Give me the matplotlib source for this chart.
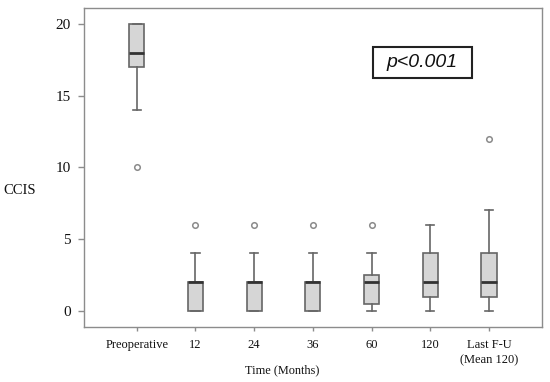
import matplotlib
matplotlib.use("Agg")
import matplotlib.pyplot as plt
from matplotlib.patches import Rectangle

categories = ["Preoperative", "12", "24", "36", "60", "120", "Last F-U\n(Mean 120)"]
q1 = [17, 0, 0, 0, 0.5, 1, 1]
med = [18, 2, 2, 2, 2, 2, 2]
q3 = [20, 2, 2, 2, 2.5, 4, 4]
whislo = [14, 0, 0, 0, 0, 0, 0]
whishi = [20, 4, 4, 4, 4, 6, 7]
outliers = [[10], [6], [6], [6], [6], [], [12]]
yticks = [0, 5, 10, 15, 20]

stats = []
for i in range(len(categories)):
    stats.append(dict(label=categories[i], q1=q1[i], med=med[i], q3=q3[i],
                      whislo=whislo[i], whishi=whishi[i], fliers=outliers[i]))

fig = plt.figure(figsize=(5.5, 3.82), dpi=100)
ax = fig.add_axes([0.1527, 0.1448, 0.985 - 0.1527, 0.979 - 0.1448])

edge = "#666666"
ax.bxp(stats, positions=range(1, len(categories) + 1), widths=0.26,
       patch_artist=True, showfliers=True, capwidths=0.14,
       boxprops=dict(facecolor="#d6d6d6", edgecolor=edge, linewidth=1.2),
       medianprops=dict(color="#333333", linewidth=2.0),
       whiskerprops=dict(color=edge, linewidth=1.2),
       capprops=dict(color=edge, linewidth=1.2),
       flierprops=dict(marker="o", markersize=4, markerfacecolor="none",
                       markeredgecolor="#8a8a8a", markeredgewidth=1.1))

ax.set_xlim(0.1, 7.9)
ax.set_ylim(-1.1, 21.1)
ax.set_yticks(yticks)
ax.set_xticks(range(1, len(categories) + 1))
ax.set_xticklabels(categories, linespacing=1.35)

for sp in ax.spines.values():
    sp.set_color("#8c8c8c")
    sp.set_linewidth(1.0)
ax.tick_params(axis="both", colors="#8c8c8c", width=1.0, labelcolor="#111111")
ax.tick_params(axis="x", length=3, pad=6, labelsize=9)
ax.tick_params(axis="y", length=4, pad=5.5, labelsize=11)
for lbl in ax.get_xticklabels() + ax.get_yticklabels():
    lbl.set_family("Liberation Serif")

fig.text(0.007, 1 - 190 / 382, "CCIS", family="Liberation Serif", fontsize=10.5,
         ha="left", va="center", color="#111111")
fig.text(282 / 550, 1 - 370 / 382, "Time (Months)", family="Liberation Serif",
         fontsize=8.8, ha="center", va="center", color="#111111")

fig.patches.append(Rectangle((373 / 550, 1 - 78 / 382), 99 / 550, 31 / 382,
                             transform=fig.transFigure, facecolor="white",
                             edgecolor="#222222", linewidth=1.5, zorder=5))
fig.text(422 / 550, 1 - 62.5 / 382, "p<0.001", family="Liberation Sans",
         style="italic", fontsize=14, ha="center", va="center",
         color="#111111", zorder=6)

fig.savefig("out.png", dpi=100)
